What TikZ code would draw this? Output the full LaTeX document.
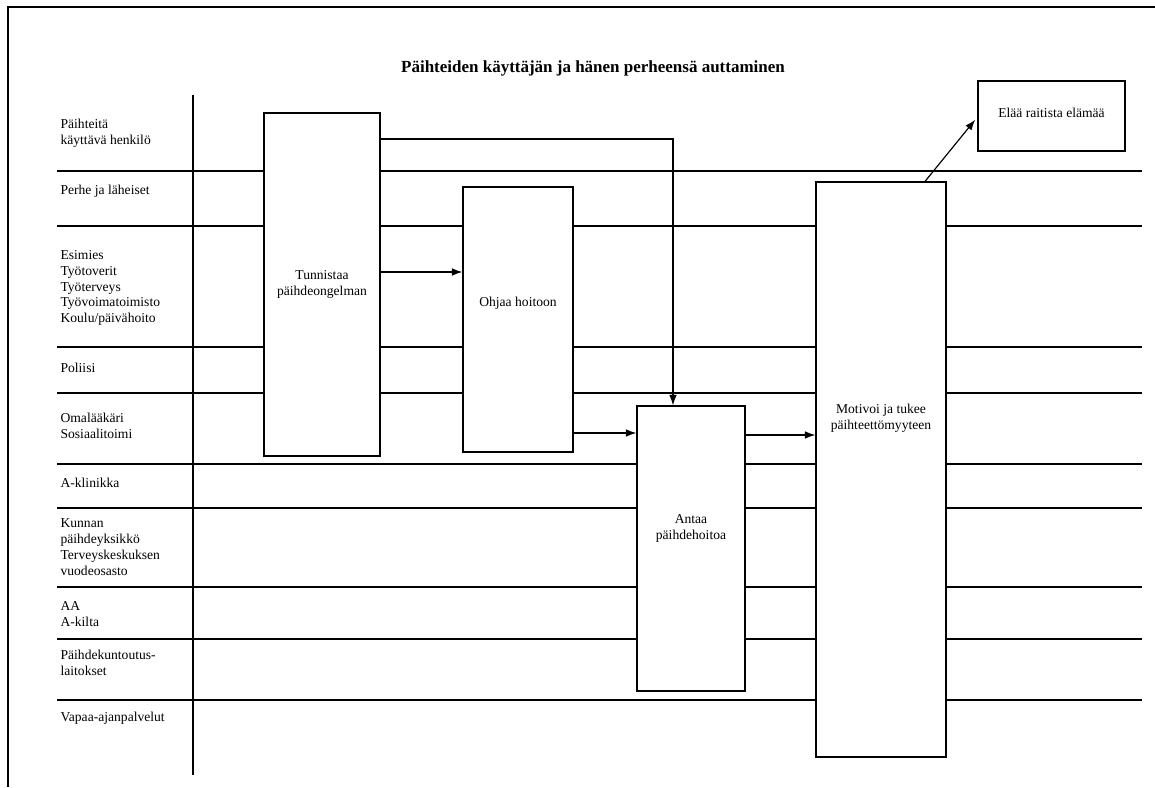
\documentclass[tikz,border=0pt]{standalone}
\usepackage{fontspec}
\setmainfont{Liberation Serif}
\usetikzlibrary{arrows.meta}
\tikzset{
  row/.style={anchor=west,align=left,inner sep=0pt,font=\fontsize{11.6}{13.6}\selectfont},
  stage/.style={draw,fill=white,inner sep=0pt,align=center,font=\fontsize{11.6}{13.6}\selectfont},
  stagetext/.style={align=center,inner sep=0pt,font=\fontsize{11.6}{13.6}\selectfont},
}
\begin{document}
\begin{tikzpicture}[x=0.03cm,y=-0.03cm,line width=1pt,>={Latex[length=9pt,width=6.5pt]}]
\useasboundingbox (0,0) rectangle (1155,787);
% frame and title
\draw[line width=1.6pt] (8,787)--(8,7)--(1155,7);
\node[font=\bfseries\fontsize{14.5}{16}\selectfont] (title) at (593,68) {Päihteiden käyttäjän ja hänen perheensä auttaminen};
% rows
\draw (193,95)--(193,775);
\foreach \y in {171,226,347,393,464,508,587,639,700}
  \draw (57,\y)--(1142,\y);
\node[row] (r1) at (60,133) {Päihteitä\\käyttävä henkilö};
\node[row] (r2) at (60,191) {Perhe ja läheiset};
\node[row] (r3) at (60,288) {Esimies\\Työtoverit\\Työterveys\\Työvoimatoimisto\\Koulu/päivähoito};
\node[row] (r4) at (60,368) {Poliisi};
\node[row] (r5) at (60,426) {Omalääkäri\\Sosiaalitoimi};
\node[row] (r6) at (60,483) {A-klinikka};
\node[row] (r7) at (60,547) {Kunnan\\päihdeyksikkö\\Terveyskeskuksen\\vuodeosasto};
\node[row] (r8) at (60,614) {AA\\A-kilta};
\node[row] (r9) at (60,663) {Päihdekuntoutus-\\laitokset};
\node[row] (r10) at (60,718) {Vapaa-ajanpalvelut};
% stages
\node[stage,minimum width=3.48cm,minimum height=10.29cm] (tunn) at (322,284.5) {Tunnistaa\\päihdeongelman};
\node[stage,minimum width=3.3cm,minimum height=7.95cm] (ohjaa) at (518,319.5) {};
\node[stagetext] (ohjaat) at (518,303) {Ohjaa hoitoon};
\node[stage,minimum width=3.24cm,minimum height=8.55cm] (antaa) at (691,548.5) {};
\node[stagetext] (antaat) at (691,528) {Antaa\\päihdehoitoa};
\node[stage,minimum width=3.9cm,minimum height=17.25cm] (motiv) at (881,469.5) {};
\node[stagetext] (motivt) at (881,418) {Motivoi ja tukee\\päihteettömyyteen};
\node[stage,minimum width=4.41cm,minimum height=2.1cm] (elaa) at (1051.5,116) {};
\node[stagetext] (elaat) at (1051.5,113) {Elää raitista elämää};
% arrows
\draw[->] (tunn.east|-0,139) -| (antaa.north-|673,0);
\draw[->] (tunn.east|-0,272) -- (ohjaa.west|-0,272);
\draw[->] (ohjaa.east|-0,433) -- (antaa.west|-0,433);
\draw[->] (antaa.east|-0,435) -- (motiv.west|-0,435);
\draw[->,shorten >=3pt] (motiv.north-|925,0) -- (elaa.west|-0,117);
\end{tikzpicture}
\end{document}
